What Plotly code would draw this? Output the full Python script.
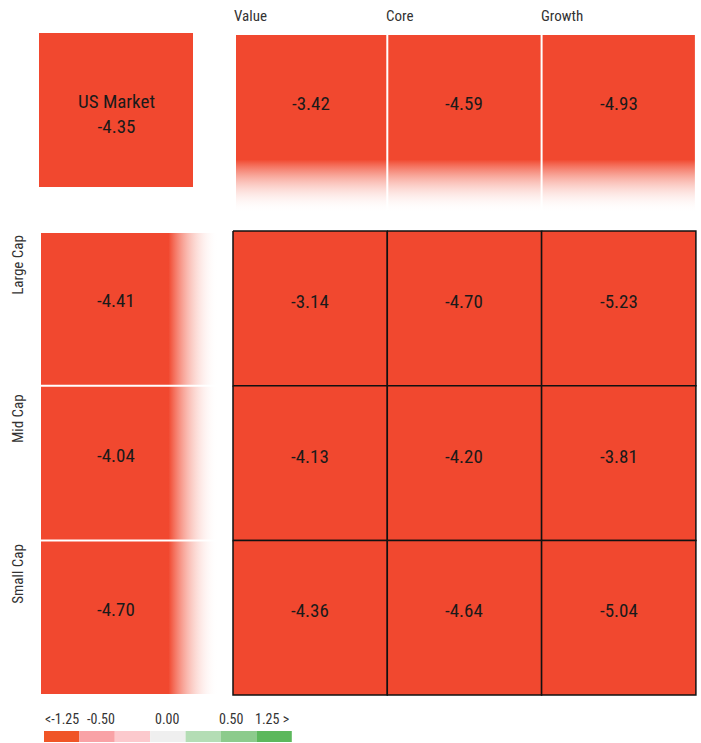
import plotly.graph_objects as go

# ---- data ----
col_labels = ["Value", "Core", "Growth"]
row_labels = ["Large Cap", "Mid Cap", "Small Cap"]
grid_values = [
    [-3.14, -4.70, -5.23],
    [-4.13, -4.20, -3.81],
    [-4.36, -4.64, -5.04],
]
col_totals = [-3.42, -4.59, -4.93]
row_totals = [-4.41, -4.04, -4.70]
market_label = "US Market"
market_value = -4.35

legend_ticks = ["<-1.25", "-0.50", "0.00", "0.50", "1.25 >"]
legend_tick_pos = [0.5, 1.6, 3.5, 5.3, 6.45]   # in legend-segment units
legend_colors = ["#F05527", "#F9A2A6", "#FCC9CD", "#EFEFEF", "#B4DDB5", "#8CCB8C", "#5CB85C"]
legend_bounds = [-1.25, -0.75, -0.25, 0.25, 0.75, 1.25]

RED = "#F1482F"
FONT = "Roboto Condensed, Liberation Sans Narrow, Roboto, sans-serif"


def value_color(v):
    if v <= -1.25:
        return RED
    for i, b in enumerate(legend_bounds):
        if v < b:
            return legend_colors[i]
    return legend_colors[-1]


# ---- layout geometry (pixels) ----
GX0, GY0, CW, CH = 233, 231, 154.3, 154.7     # main grid
HY0, HY1 = 35, 213                             # column header band
LX0, LX1 = 41, 218                             # row header band
MX0, MY0, MX1, MY1 = 39, 33, 193, 187          # market box
LEG_X0, LEG_Y0, LEG_W, LEG_H = 44, 731, 35.4, 11

fig = go.Figure()
annotations = []


def rect(x0, y0, x1, y1, color, line=None, gradient=None):
    kw = dict(
        x=[x0, x1, x1, x0, x0], y=[y0, y0, y1, y1, y0],
        mode="lines", fill="toself", hoverinfo="skip", showlegend=False,
    )
    if line:
        kw["line"] = dict(color=line, width=1.5)
    else:
        kw["line"] = dict(width=0, color="rgba(0,0,0,0)")
    if gradient:
        kw["fillgradient"] = gradient
    else:
        kw["fillcolor"] = color
    fig.add_trace(go.Scatter(**kw))


def label(x, y, text, size=19, color="#1a1a1a", angle=0, xanchor="center"):
    annotations.append(dict(
        x=x, y=y, text=text, showarrow=False, xref="x", yref="y",
        font=dict(family=FONT, size=size, color=color),
        textangle=angle, xanchor=xanchor, yanchor="middle",
    ))


# market box
rect(MX0, MY0, MX1, MY1, value_color(market_value))
label((MX0 + MX1) / 2, (MY0 + MY1) / 2 + 4, f"{market_label}<br>{market_value:.2f}")

# column headers with vertical fade
for j, (name, v) in enumerate(zip(col_labels, col_totals)):
    x0 = GX0 + j * CW + (3 if j == 0 else 1)
    x1 = GX0 + (j + 1) * CW - 1
    c = value_color(v)
    rect(x0, HY0, x1, HY1, c, gradient=dict(
        type="vertical", start=HY0, stop=HY1,
        colorscale=[[0, c], [0.70, c], [1, "rgba(255,255,255,0)"]],
    ))
    label(x0 - 4, 16, name, size=15, color="#333333", xanchor="left")
    label((x0 + x1) / 2, 103, f"{v:.2f}")

# row headers with horizontal fade
for i, (name, v) in enumerate(zip(row_labels, row_totals)):
    y0 = GY0 + i * CH + (2 if i == 0 else 1)
    y1 = GY0 + (i + 1) * CH - 1
    c = value_color(v)
    rect(LX0, y0, LX1, y1, c, gradient=dict(
        type="horizontal", start=LX0, stop=LX1,
        colorscale=[[0, c], [0.72, c], [1, "rgba(255,255,255,0)"]],
    ))
    label(18, (y0 + y1) / 2 - 44, name, size=15, color="#333333", angle=-90)
    label(116, (y0 + y1) / 2 - 8, f"{v:.2f}")

# main style-box grid
for i, row in enumerate(grid_values):
    for j, v in enumerate(row):
        x0, y0 = GX0 + j * CW, GY0 + i * CH
        rect(x0, y0, x0 + CW, y0 + CH, value_color(v), line="#111111")
        label(x0 + CW / 2, y0 + CH / 2 - 7, f"{v:.2f}")

# color legend
for k, c in enumerate(legend_colors):
    x0 = LEG_X0 + k * LEG_W
    rect(x0, LEG_Y0, x0 + LEG_W, LEG_Y0 + LEG_H, c)
for t, p in zip(legend_ticks, legend_tick_pos):
    label(LEG_X0 + p * LEG_W, 719, t, size=14, color="#333333")

fig.update_layout(
    width=701, height=743,
    margin=dict(l=0, r=0, t=0, b=0),
    paper_bgcolor="white", plot_bgcolor="white",
    xaxis=dict(range=[0, 701], visible=False, fixedrange=True),
    yaxis=dict(range=[743, 0], visible=False, fixedrange=True),
    annotations=annotations,
    showlegend=False,
)

fig.write_html("out.html")
